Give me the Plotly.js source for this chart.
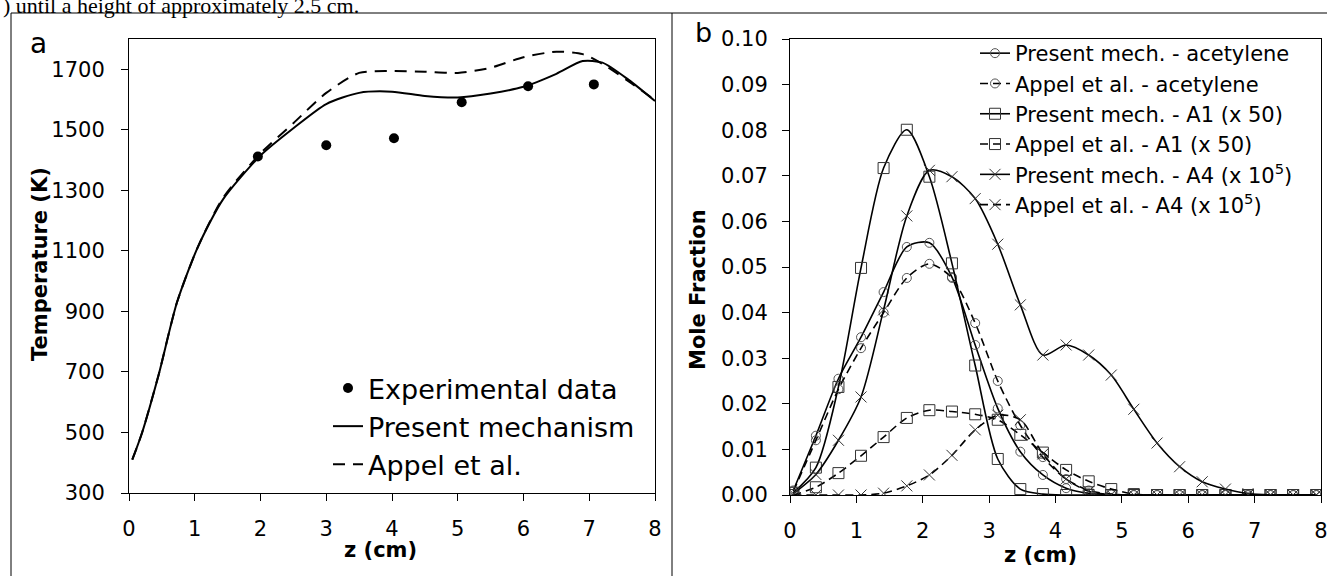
<!DOCTYPE html>
<html>
<head>
<meta charset="utf-8">
<script src="https://cdn.plot.ly/plotly-3.0.1.min.js"></script>
<style>
  html, body { margin: 0; padding: 0; background: #fff; }
  #chart { width: 1327px; height: 576px; }
</style>
</head>
<body>
<div id="chart"></div>
<script>
// ---------- Panel a: temperature ----------
const zExp = [1.96, 3.0, 4.03, 5.06, 6.07, 7.07];
const tExp = [1412, 1449, 1472, 1591, 1644, 1650];

const zModel = [0.05, 0.2, 0.45, 0.73, 1.05, 1.43, 2.0, 2.5, 3.0, 3.5, 4.0, 4.5, 5.0, 5.5, 6.0, 6.5, 6.9, 7.2, 7.6, 8.0];
const tPresent = [410, 500, 690, 930, 1114, 1270, 1415, 1505, 1585, 1622, 1626, 1612, 1607, 1620, 1642, 1685, 1727, 1722, 1665, 1595];
const tAppel = [410, 500, 690, 930, 1114, 1275, 1422, 1522, 1622, 1688, 1694, 1692, 1688, 1705, 1740, 1758, 1750, 1718, 1660, 1598];

const legendA = ["Experimental data", "Present mechanism", "Appel et al."];

// ---------- Panel b: mole fractions ----------
const zB = [0.05, 0.39, 0.73, 1.07, 1.41, 1.76, 2.10, 2.44, 2.79, 3.13, 3.47, 3.81, 4.16, 4.50, 4.84, 5.18, 5.53, 5.87, 6.21, 6.56, 6.90, 7.24, 7.58, 7.93];
const acPresent = [0.001, 0.013, 0.0255, 0.0346, 0.0445, 0.0544, 0.0553, 0.0478, 0.0329, 0.019, 0.0095, 0.0044, 0.0015, 0.0004, 0.0001, 0, 0, 0, 0, 0, 0, 0, 0, 0];
const acAppel = [0.0008, 0.012, 0.0232, 0.0322, 0.040, 0.0476, 0.0507, 0.0476, 0.0377, 0.025, 0.0153, 0.0083, 0.0035, 0.001, 0.0002, 0, 0, 0, 0, 0, 0, 0, 0, 0];
const a1Present = [0.0005, 0.006, 0.0237, 0.0498, 0.0717, 0.0801, 0.0698, 0.0508, 0.0284, 0.0079, 0.0013, 0.0002, 0, 0, 0, 0, 0, 0, 0, 0, 0, 0, 0, 0];
const a1Appel = [0, 0.0017, 0.0048, 0.0086, 0.0127, 0.0169, 0.0186, 0.0183, 0.0177, 0.0165, 0.0132, 0.0093, 0.0055, 0.003, 0.0013, 0.0002, 0, 0, 0, 0, 0, 0, 0, 0];
const a4Present = [0.0003, 0.0045, 0.012, 0.0215, 0.0406, 0.0612, 0.0712, 0.0698, 0.065, 0.055, 0.0417, 0.0307, 0.0329, 0.0307, 0.0263, 0.0188, 0.0114, 0.0062, 0.0029, 0.0013, 0.0003, 0, 0, 0];
const a4Appel = [0, 0, 0, 0, 0.0004, 0.002, 0.0044, 0.0087, 0.0143, 0.0175, 0.0165, 0.009, 0.0035, 0.0008, 0.0001, 0, 0, 0, 0, 0, 0, 0, 0, 0];

const legendB = [
  "Present mech. - acetylene",
  "Appel et al. - acetylene",
  "Present mech. - A1 (x 50)",
  "Appel et al. - A1 (x 50)",
  "Present mech. - A4 (x 10<sup>5</sup>)",
  "Appel et al. - A4 (x 10<sup>5</sup>)"
];

const ticksA_x = [0, 1, 2, 3, 4, 5, 6, 7, 8];
const ticksA_y = [300, 500, 700, 900, 1100, 1300, 1500, 1700];
const ticksB_y = [0, 0.01, 0.02, 0.03, 0.04, 0.05, 0.06, 0.07, 0.08, 0.09, 0.10];

const W = 1327, H = 576;
const px = v => v / W;
const py = v => 1 - v / H;

const FONT = "DejaVu Sans";
const spl = { shape: "spline", smoothing: 0.8 };

const traces = [
  { x: zExp, y: tExp, name: legendA[0], mode: "markers", type: "scatter",
    marker: { symbol: "circle", size: 10, color: "#000" }, xaxis: "x", yaxis: "y", legend: "legend" },
  { x: zModel, y: tPresent, name: legendA[1], mode: "lines", type: "scatter",
    line: { color: "#000", width: 2, shape: "spline", smoothing: 0.7 }, xaxis: "x", yaxis: "y", legend: "legend" },
  { x: zModel, y: tAppel, name: legendA[2], mode: "lines", type: "scatter",
    line: { color: "#000", width: 2, dash: "12px,8px", shape: "spline", smoothing: 0.7 }, xaxis: "x", yaxis: "y", legend: "legend" },

  { x: zB, y: acPresent, name: legendB[0], mode: "lines+markers", type: "scatter",
    line: Object.assign({ color: "#000", width: 1.6 }, spl),
    marker: { symbol: "circle-open", size: 9, color: "#555", line: { width: 1 } }, xaxis: "x2", yaxis: "y2", legend: "legend2" },
  { x: zB, y: acAppel, name: legendB[1], mode: "lines+markers", type: "scatter",
    line: Object.assign({ color: "#000", width: 1.6, dash: "8px,5px" }, spl),
    marker: { symbol: "circle-open", size: 9, color: "#555", line: { width: 1 } }, xaxis: "x2", yaxis: "y2", legend: "legend2" },
  { x: zB, y: a1Present, name: legendB[2], mode: "lines+markers", type: "scatter",
    line: Object.assign({ color: "#000", width: 1.6 }, spl),
    marker: { symbol: "square-open", size: 11, color: "#333", line: { width: 1 } }, xaxis: "x2", yaxis: "y2", legend: "legend2" },
  { x: zB, y: a1Appel, name: legendB[3], mode: "lines+markers", type: "scatter",
    line: Object.assign({ color: "#000", width: 1.6, dash: "8px,5px" }, spl),
    marker: { symbol: "square-open", size: 11, color: "#333", line: { width: 1 } }, xaxis: "x2", yaxis: "y2", legend: "legend2" },
  { x: zB, y: a4Present, name: legendB[4], mode: "lines+markers", type: "scatter",
    line: Object.assign({ color: "#000", width: 1.6 }, spl),
    marker: { symbol: "x-thin-open", size: 11, color: "#333", line: { width: 1 } }, xaxis: "x2", yaxis: "y2", legend: "legend2" },
  { x: zB, y: a4Appel, name: legendB[5], mode: "lines+markers", type: "scatter",
    line: Object.assign({ color: "#000", width: 1.6, dash: "8px,5px" }, spl),
    marker: { symbol: "x-thin-open", size: 11, color: "#333", line: { width: 1 } }, xaxis: "x2", yaxis: "y2", legend: "legend2" }
];

const axisCommon = {
  showgrid: false, zeroline: false, showline: true, linecolor: "#000", linewidth: 1,
  mirror: true, ticks: "outside", ticklen: 7, tickwidth: 1, tickcolor: "#000",
  tickfont: { family: FONT, size: 21, color: "#000" }, ticklabeloverflow: "allow"
};

const layout = {
  width: W, height: H,
  margin: { l: 0, r: 0, t: 0, b: 0, pad: 0 },
  paper_bgcolor: "#fff", plot_bgcolor: "#fff",
  font: { family: FONT, color: "#000" },
  showlegend: true,
  xaxis: Object.assign({}, axisCommon, {
    domain: [px(129), px(655)], range: [0, 8], tickvals: ticksA_x, anchor: "y", ticklabelstandoff: 10
  }),
  yaxis: Object.assign({}, axisCommon, {
    domain: [py(493), py(39)], range: [300, 1800], tickvals: ticksA_y, anchor: "x", ticklabelstandoff: 12
  }),
  xaxis2: Object.assign({}, axisCommon, {
    domain: [px(790), px(1321)], range: [0, 8], tickvals: ticksA_x, anchor: "y2", ticklabelstandoff: 10
  }),
  yaxis2: Object.assign({}, axisCommon, {
    domain: [py(495), py(39)], range: [0, 0.10], tickvals: ticksB_y, tickformat: ".2f", anchor: "x2", ticklabelstandoff: 10
  }),
  legend: {
    x: px(328), y: py(364), xanchor: "left", yanchor: "top",
    bgcolor: "rgba(0,0,0,0)", borderwidth: 0,
    font: { family: FONT, size: 27, color: "#000" }, itemwidth: 30
  },
  legend2: {
    x: px(975), y: py(33), xanchor: "left", yanchor: "top",
    bgcolor: "rgba(0,0,0,0)", borderwidth: 0,
    font: { family: FONT, size: 21, color: "#000" }, itemwidth: 30
  },
  shapes: [
    { type: "line", xref: "paper", yref: "paper", x0: px(11), x1: 1, y0: py(13), y1: py(13), line: { color: "#000", width: 1 } },
    { type: "line", xref: "paper", yref: "paper", x0: px(11), x1: px(11), y0: py(13), y1: 0, line: { color: "#000", width: 1 } },
    { type: "line", xref: "paper", yref: "paper", x0: px(672), x1: px(672), y0: py(13), y1: 0, line: { color: "#000", width: 1 } }
  ],
  annotations: [
    { text: ") until a height of approximately 2.5 cm.", xref: "paper", yref: "paper",
      x: px(1), y: py(6), xanchor: "left", yanchor: "middle", showarrow: false,
      font: { family: "Liberation Serif", size: 22, color: "#000" } },
    { text: "a", xref: "paper", yref: "paper", x: px(38), y: py(43), xanchor: "center", yanchor: "middle",
      showarrow: false, font: { family: FONT, size: 28, color: "#000" } },
    { text: "b", xref: "paper", yref: "paper", x: px(703), y: py(33), xanchor: "center", yanchor: "middle",
      showarrow: false, font: { family: FONT, size: 27, color: "#000" } },
    { text: "<b>Temperature (K)</b>", xref: "paper", yref: "paper", x: px(40), y: py(264), textangle: -90,
      xanchor: "center", yanchor: "middle", showarrow: false, font: { family: FONT, size: 21, color: "#000" } },
    { text: "<b>Mole Fraction</b>", xref: "paper", yref: "paper", x: px(698), y: py(290), textangle: -90,
      xanchor: "center", yanchor: "middle", showarrow: false, font: { family: FONT, size: 21, color: "#000" } },
    { text: "<b>z (cm)</b>", xref: "paper", yref: "paper", x: px(380), y: py(550),
      xanchor: "center", yanchor: "middle", showarrow: false, font: { family: FONT, size: 21, color: "#000" } },
    { text: "<b>z (cm)</b>", xref: "paper", yref: "paper", x: px(1040), y: py(555),
      xanchor: "center", yanchor: "middle", showarrow: false, font: { family: FONT, size: 21, color: "#000" } }
  ]
};

Plotly.newPlot("chart", traces, layout, { staticPlot: true, displayModeBar: false });
</script>
</body>
</html>
